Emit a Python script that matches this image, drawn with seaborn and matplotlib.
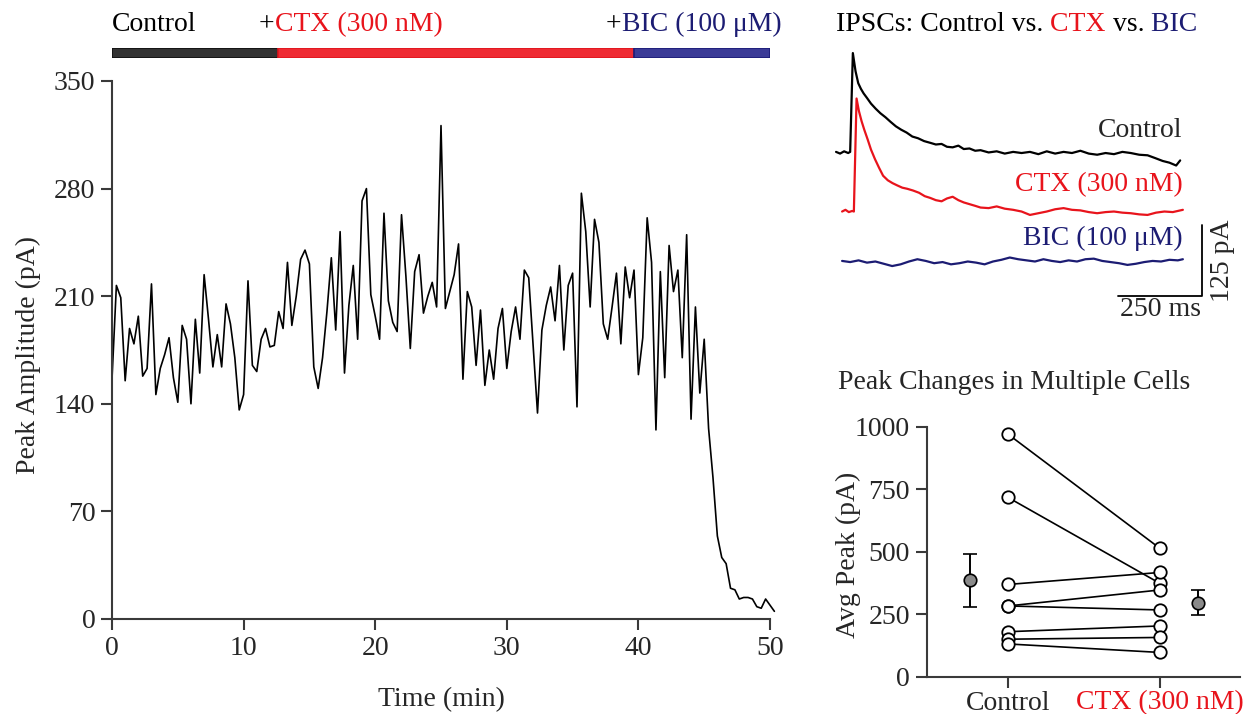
import numpy as np
import pandas as pd
import seaborn as sns
import matplotlib.pyplot as plt

sns.set_style('ticks')
plt.rcParams['font.family'] = ['Liberation Serif', 'DejaVu Serif']
plt.rcParams['font.size'] = 20

RED = '#e8141c'
NAVY = '#1c1c73'

# peak amplitude (pA) of each sweep, one sweep every 20 s
peak_pA = [156, 217, 209, 155, 189, 179, 197, 158, 163, 218,
           146, 163, 172, 183, 157, 141, 191, 182, 140, 195,
           160, 224, 195, 164, 185, 164, 205, 192, 170, 136,
           146, 220, 165, 161, 182, 189, 177, 178, 200, 189,
           232, 191, 210, 234, 240, 231, 164, 150, 170, 200,
           235, 188, 252, 160, 204, 230, 182, 272, 280, 211,
           197, 182, 264, 207, 193, 187, 263, 223, 176, 226,
           237, 199, 210, 219, 203, 321, 202, 213, 224, 244,
           156, 213, 203, 165, 201, 152, 175, 156, 189, 202,
           163, 187, 203, 182, 227, 222, 178, 134, 188, 204,
           216, 194, 230, 175, 217, 225, 138, 277, 252, 203,
           260, 245, 192, 182, 203, 225, 179, 229, 209, 227,
           159, 183, 261, 232, 123, 226, 157, 243, 213, 227,
           170, 250, 130, 203, 147, 182, 124, 92, 54, 40,
           36, 20, 19, 13, 14, 14, 13, 8, 7, 13,
           9, 5]
time_min = np.arange(len(peak_pA)) / 3

# drug application periods (min)
phase_start = [0, 12.6, 39.7]
phase_end = [12.6, 39.7, 50]
phase_fill = ['#333333', '#ef2b33', '#3b3b97']
phase_edge = ['#111111', '#e0161e', '#1c1c78']

# example IPSC traces (ms, pA)
ctrl_ms = [18, 30, 42, 54, 60, 68, 76, 84, 92, 100, 110, 122, 136, 150, 165,
           180, 196, 212, 228, 245, 262, 280, 298, 315, 332, 348, 365, 382, 398, 415,
           432, 448, 472, 496, 520, 545, 570, 595, 620, 645, 670, 695, 720, 745, 770,
           795, 820, 845, 870, 895, 920, 945, 968, 990, 1010, 1030, 1042]
ctrl_pA = [296, 293, 297, 294, 296, 470, 438, 417, 407, 399, 391, 381, 372, 364, 357,
           349, 341, 335, 330, 323, 320, 315, 312, 309, 310, 305, 304, 307, 301, 302,
           298, 299, 295, 297, 293, 296, 294, 296, 292, 297, 293, 296, 294, 298, 293,
           291, 294, 292, 296, 294, 291, 290, 285, 280, 277, 272, 281]
ctx_ms = [36, 46, 56, 66, 71, 79, 86, 94, 102, 112, 122, 134, 146, 158, 172,
          186, 200, 215, 230, 247, 265, 282, 298, 315, 332, 348, 365, 382, 398, 415,
          432, 448, 472, 496, 520, 545, 570, 595, 620, 645, 670, 695, 720, 745, 770,
          795, 820, 845, 870, 895, 920, 945, 970, 995, 1020, 1050]
ctx_pA = [191, 194, 190, 192, 191, 390, 368, 350, 335, 318, 300, 283, 268, 254, 246,
          241, 237, 233, 231, 228, 224, 218, 215, 211, 209, 214, 217, 211, 207, 204,
          201, 198, 197, 200, 196, 194, 191, 185, 188, 191, 195, 197, 194, 193, 190,
          188, 190, 191, 189, 188, 186, 185, 189, 191, 190, 194]
bic_ms = [36, 60, 85, 110, 135, 160, 185, 210, 235, 260, 285, 310, 335, 360, 385,
          410, 435, 460, 485, 510, 535, 560, 585, 610, 635, 660, 685, 710, 735, 760,
          785, 810, 835, 860, 885, 910, 935, 960, 985, 1010, 1035, 1050]
bic_pA = [104, 102, 105, 101, 103, 99, 95, 98, 103, 107, 104, 100, 102, 98, 100,
          103, 101, 98, 103, 106, 110, 107, 105, 103, 107, 104, 102, 105, 103, 107,
          108, 104, 102, 100, 97, 99, 102, 104, 103, 106, 105, 107]

# average peak per cell (pA)
cells = [1, 2, 3, 4, 5, 6, 7, 8]
ctrl_peak = [970, 717, 369, 283, 283, 180, 150, 131]
ctx_peak = [513, 373, 417, 347, 267, 203, 157, 97]
conditions = ['Control', 'CTX (300 nM)']

W, H = 1253, 714
fig = plt.figure(figsize=(W / 100, H / 100), dpi=100)


def box(x0, y0, x1, y1):
    # pixel rectangle -> figure fraction
    return [x0 / W, 1 - y1 / H, (x1 - x0) / W, (y1 - y0) / H]


def style_axes(a):
    sns.despine(ax=a)
    for s in ['left', 'bottom']:
        a.spines[s].set_linewidth(1.5)
        a.spines[s].set_color('#3a3a3a')
    a.tick_params(direction='out', length=8, width=1.5, color='#3a3a3a', labelsize=20, pad=4)


# ---- time course ----
ax = fig.add_axes(box(112, 81, 770, 619))
sns.lineplot(x=time_min, y=peak_pA, color='k', lw=1.2, ax=ax)
for ln in ax.lines:
    ln.set_clip_on(False)
ax.set_xlim(0, 50)
ax.set_ylim(0, 350)
ax.set_xticks([0, 10, 20, 30, 40, 50])
ax.set_yticks([0, 70, 140, 210, 280, 350])
style_axes(ax)
fig.text(441 / W, 1 - 700 / H, 'Time (min)', ha='center', va='center')
fig.text(28 / W, 1 - 355 / H, 'Peak Amplitude (pA)', rotation=90, ha='center', va='center')

# drug bar
axb = fig.add_axes(box(112, 47.5, 770, 57.5))
for s0, s1, fc, ec in zip(phase_start, phase_end, phase_fill, phase_edge):
    axb.barh(0.5, s1 - s0, left=s0, height=1, color=fc, edgecolor=ec, lw=1.2)
axb.set_xlim(0, 50)
axb.set_ylim(0, 1)
axb.axis('off')

# full-figure axes for multi-coloured text
axt = fig.add_axes([0, 0, 1, 1])
axt.axis('off')
axt.set_xlim(0, W)
axt.set_ylim(H, 0)


def colour_text(x, y, parts, **kw):
    t = axt.text(x, y, parts[0][0], color=parts[0][1], va='bottom', ha='left', **kw)
    for s, c in parts[1:]:
        t = axt.annotate(s, xy=(1, 0), xycoords=t, color=c, va='bottom', ha='left', **kw)
    return t


colour_text(112, 37, [('Control', 'k')])
colour_text(259, 37, [('+', 'k'), ('CTX (300 nM)', RED)])
colour_text(606, 37, [('+', 'k'), ('BIC (100 μM)', NAVY)])
colour_text(836, 37, [('IPSCs: Control vs.', 'k'), (' CTX', RED), (' vs.', 'k'), (' BIC', NAVY)])
axt.text(838, 395, 'Peak Changes in Multiple Cells', va='bottom', ha='left')

# ---- example traces ----
axr = fig.add_axes(box(830, 40, 1240, 320))
sns.lineplot(x=ctrl_ms, y=ctrl_pA, color='k', lw=1.6, ax=axr)
sns.lineplot(x=ctx_ms, y=ctx_pA, color=RED, lw=1.6, ax=axr)
sns.lineplot(x=bic_ms, y=bic_pA, color=NAVY, lw=1.6, ax=axr)
axr.plot([857, 1107, 1107], [42, 42, 167], color='k', lw=1.3)
axr.text(1050, 334, 'Control', ha='right', va='center')
axr.text(1050, 238, 'CTX (300 nM)', ha='right', va='center', color=RED)
axr.text(1050, 144, 'BIC (100 μM)', ha='right', va='center', color=NAVY)
axr.text(1167, 104, '125 pA', rotation=90, ha='center', va='center')
axr.text(982, 18, '250 ms', ha='center', va='center')
axr.set_xlim(0, 1220)
axr.set_ylim(0, 493)
axr.axis('off')

# ---- paired cells ----
axc = fig.add_axes(box(926.7, 426.7, 1240, 676.7))
cell_df = pd.DataFrame({'cell': cells * 2,
                        'cond': [0] * len(cells) + [1] * len(cells),
                        'peak': ctrl_peak + ctx_peak})
sns.lineplot(data=cell_df, x='cond', y='peak', units='cell', estimator=None,
             color='k', lw=1.2, ax=axc)
sns.scatterplot(data=cell_df, x='cond', y='peak', s=80, color='white',
                edgecolor='k', linewidth=1.3, zorder=3, clip_on=False, ax=axc)
means = [np.mean(ctrl_peak), np.mean(ctx_peak)]
sems = [np.std(ctrl_peak, ddof=1) / np.sqrt(len(cells)),
        np.std(ctx_peak, ddof=1) / np.sqrt(len(cells))]
axc.errorbar([-0.25, 1.25], means, yerr=sems, fmt='o', mfc='#8a8a8a', mec='k',
             ms=9, mew=1.2, ecolor='k', elinewidth=1.4, capsize=5, capthick=1.4)
axc.set_xlim(-0.535, 1.526)
axc.set_ylim(0, 1000)
axc.set_xticks([0, 1])
axc.set_xticklabels(conditions)
axc.get_xticklabels()[1].set_color(RED)
axc.set_yticks([0, 250, 500, 750, 1000])
axc.set_xlabel('')
axc.set_ylabel('')
style_axes(axc)
axc.tick_params(axis='x', pad=2)
fig.text(848 / W, 1 - 555 / H, 'Avg Peak (pA)', rotation=90, ha='center', va='center')

fig.savefig('out.png', dpi=100)
